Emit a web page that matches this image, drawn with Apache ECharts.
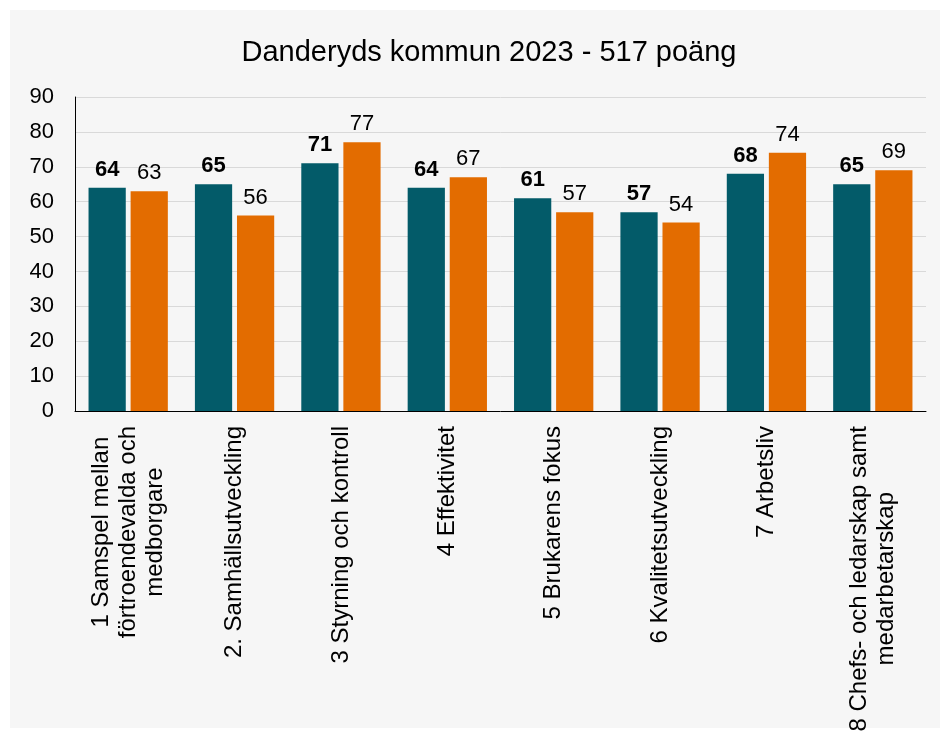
<!DOCTYPE html>
<html>
<head>
<meta charset="utf-8">
<script src="https://cdn.jsdelivr.net/npm/echarts@6/dist/echarts.min.js"></script>
<style>
html, body { margin: 0; padding: 0; background: #ffffff; }
#chart { width: 940px; height: 739px; }
</style>
</head>
<body>
<div id="chart"></div>
<script>
// chart values
var categories = [
	'1 Samspel mellan\nförtroendevalda och\nmedborgare',
	'2. Samhällsutveckling',
	'3 Styrning och kontroll',
	'4 Effektivitet',
	'5 Brukarens fokus',
	'6 Kvalitetsutveckling',
	'7 Arbetsliv',
	'8 Chefs- och ledarskap samt\nmedarbetarskap'
];
var danderyd = [64, 65, 71, 64, 61, 57, 68, 65];
var snitt = [63, 56, 77, 67, 57, 54, 74, 69];
var yTicks = [0, 10, 20, 30, 40, 50, 60, 70, 80, 90];

var font = '"Liberation Sans", Arial, sans-serif';

var chart = echarts.init(document.getElementById('chart'));

var option = {
	animation: false,
	graphic: [{
		type: 'rect',
		shape: { x: 10, y: 10, width: 930, height: 718 },
		style: { fill: '#f6f6f6' },
		z: -10
	}],
	title: {
		text: 'Danderyds kommun 2023 - 517 poäng',
		left: 484,
		textAlign: 'center',
		top: 33,
		textStyle: {
			fontFamily: font,
			fontSize: 29,
			fontWeight: 'normal',
			color: '#000'
		}
	},
	grid: {
		left: 75,
		right: 14,
		top: 97,
		bottom: 328,
		containLabel: false
	},
	xAxis: {
		type: 'category',
		data: categories,
		axisLine: { lineStyle: { color: '#000', width: 1 } },
		axisTick: { show: false },
		axisLabel: {
			interval: 0,
			rotate: 90,
			margin: 15,
			// lines centred on each other, block ends at the axis
			formatter: function (val) {
				return val.split('\n').map(function (l) {
					return '{c|' + l + '}';
				}).join('\n');
			},
			rich: {
				c: {
					align: 'center',
					fontFamily: font,
					fontSize: 24,
					lineHeight: 27,
					color: '#000'
				}
			}
		}
	},
	yAxis: {
		type: 'value',
		min: yTicks[0],
		max: yTicks[yTicks.length - 1],
		interval: 10,
		axisLine: { show: true, lineStyle: { color: '#000', width: 1 } },
		axisTick: { show: false },
		axisLabel: {
			margin: 21,
			fontFamily: font,
			fontSize: 22,
			color: '#000'
		},
		splitLine: { lineStyle: { color: '#d9d9d9', width: 1 } }
	},
	series: [{
		name: 'Danderyd',
		type: 'bar',
		data: danderyd,
		barWidth: '35%',
		barGap: '13%',
		itemStyle: { color: '#035b69' },
		label: {
			show: true,
			position: 'top',
			distance: 7,
			fontFamily: font,
			fontSize: 22,
			fontWeight: 'bold',
			color: '#000'
		}
	}, {
		name: 'Snitt',
		type: 'bar',
		data: snitt,
		barWidth: '35%',
		itemStyle: { color: '#e36c00' },
		label: {
			show: true,
			position: 'top',
			distance: 7,
			fontFamily: font,
			fontSize: 22,
			color: '#000'
		}
	}]
};

chart.setOption(option);
</script>
</body>
</html>
